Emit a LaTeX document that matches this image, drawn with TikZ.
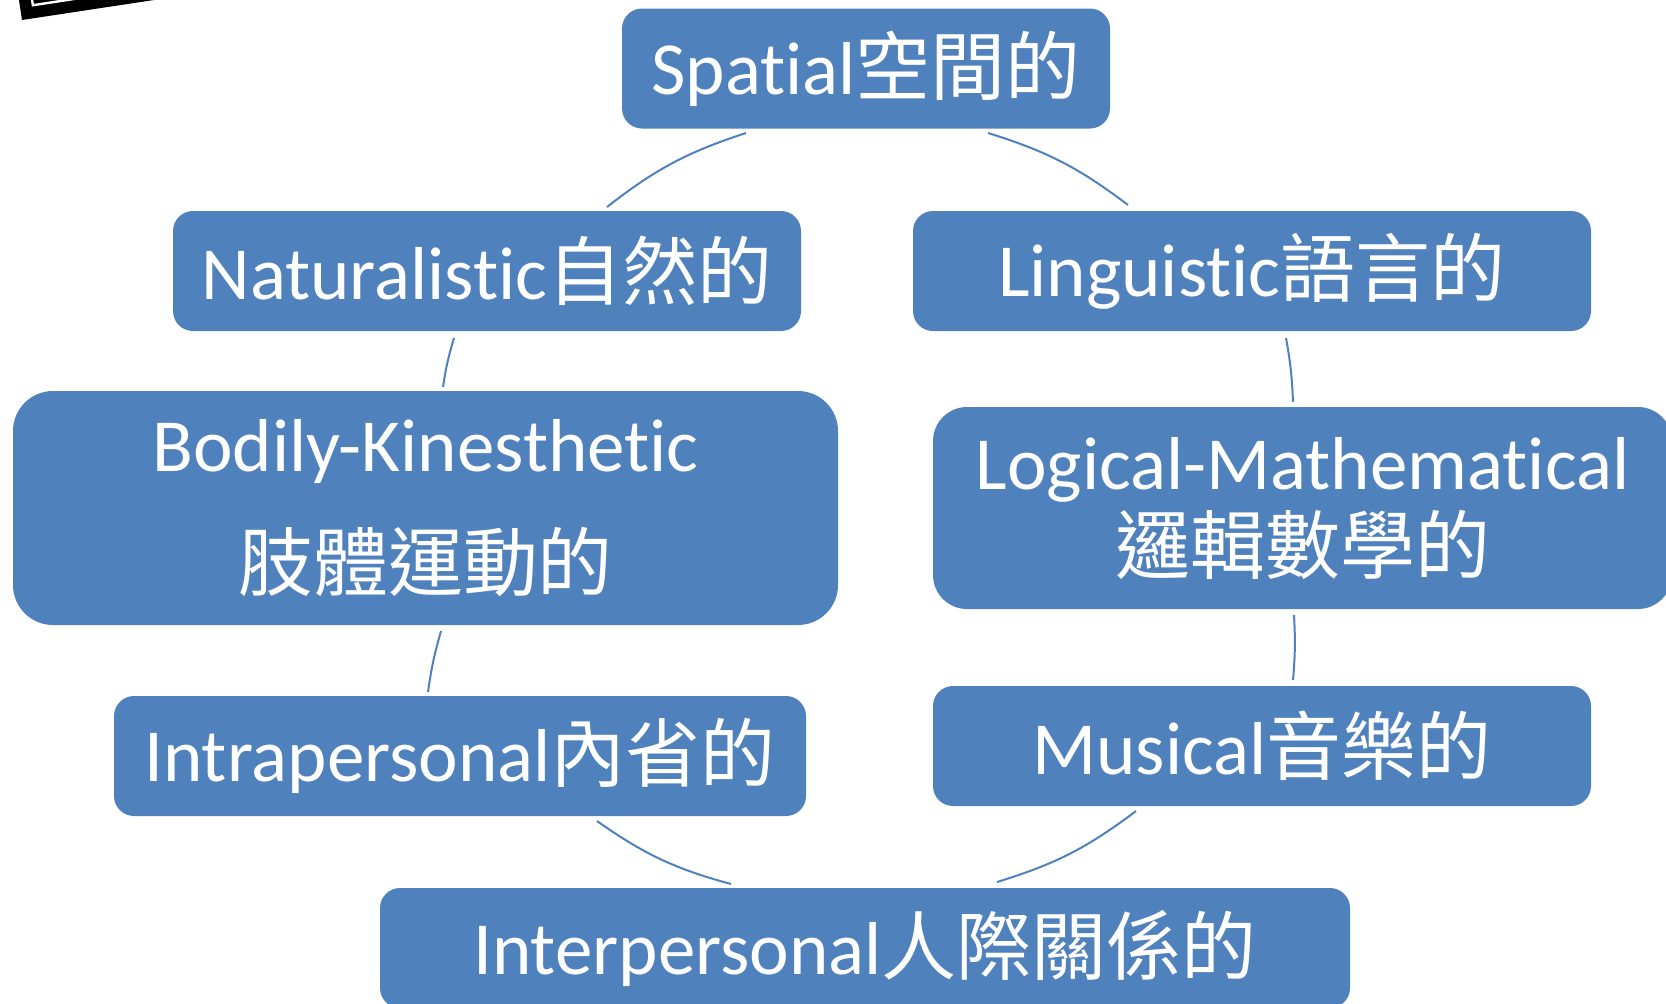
\documentclass[tikz,border=0pt]{standalone}
\usepackage{fontspec}
\setmainfont{Carlito}[Ligatures=NoCommon]
\newfontfamily\cjk{Noto Sans CJK TC}
\usetikzlibrary{calc}
\definecolor{boxblue}{HTML}{4F81BD}
\begin{document}
\begin{tikzpicture}[x=0.5pt,y=-0.5pt,
  box/.style={fill=boxblue, rounded corners=10pt, text=white, inner sep=0pt,
    font=\fontsize{37.5}{44}\selectfont, align=center},
  link/.style={draw=boxblue, line width=1pt},
  frameblack/.style={fill=black},
  framewhite/.style={draw=white, line width=1.2pt}
]
\useasboundingbox (0,0) rectangle (1666,1003);
\clip (0,0) rectangle (1666,1003);

% top-left black frame (partly cut off)
\fill[frameblack] (22,20) -- (219.8,-10) -- (204.8,-108.9) -- (7,-78.9) -- cycle;
\draw[framewhite] (32.9,5.2) -- (205,-20.9) -- (193.9,-94.1) -- (21.8,-68) -- cycle;

% boxes
\node[box, minimum width=244pt, minimum height=60pt] (sp) at (866,68.5) {Spatial{\cjk 空間的}};
\node[box, minimum width=314pt, minimum height=60pt] (na) at (487,271) {Naturalistic{\cjk 自然的}};
\node[box, minimum width=339pt, minimum height=60pt] (li) at (1252,271) {Linguistic{\cjk 語言的}};
\node[box, rounded corners=20pt, minimum width=412.5pt, minimum height=117pt,
  font=\fontsize{37.5}{59.5}\selectfont] (bo) at (425.5,508) {Bodily-Kinesthetic\\{\cjk 肢體運動的}};
\node[box, rounded corners=17pt, minimum width=369.5pt, minimum height=101pt,
  font=\fontsize{37.5}{42}\selectfont] (lo) at (1302.5,508) {Logical-Mathematical\\{\cjk 邏輯數學的}};
\node[box, minimum width=346pt, minimum height=60pt] (ia) at (460,756) {Intrapersonal{\cjk 內省的}};
\node[box, minimum width=329pt, minimum height=60pt] (mu) at (1262,746) {Musical{\cjk 音樂的}};
\node[box, minimum width=485pt, minimum height=60pt] (ie) at (865,948) {Interpersonal{\cjk 人際關係的}};

% connector end points
\coordinate (spL) at (746,133);
\coordinate (naT) at (607,207);
\coordinate (naB) at (454,338);
\coordinate (boT) at (443,387);
\coordinate (boB) at (441,631);
\coordinate (iaT) at (428,692);
\coordinate (iaB) at (597,821);
\coordinate (ieL) at (731,884);
\coordinate (spR) at (988,133);
\coordinate (liT) at (1128,205);
\coordinate (liB) at (1286,338);
\coordinate (loT) at (1293,402);
\coordinate (loB) at (1294,615);
\coordinate (muT) at (1293,680);
\coordinate (muB) at (1136,811);
\coordinate (ieR) at (997,882);

% connectors (arcs of the cycle)
\draw[link] (spL) to[bend right=10] (naT);
\draw[link] (naB) to[bend right=4] (boT);
\draw[link] (boB) to[bend right=4] (iaT);
\draw[link] (iaB) to[bend right=10] (ieL);
\draw[link] (spR) to[bend left=10] (liT);
\draw[link] (liB) to[bend left=4] (loT);
\draw[link] (loB) to[bend left=4] (muT);
\draw[link] (muB) to[bend left=10] (ieR);
\end{tikzpicture}
\end{document}
